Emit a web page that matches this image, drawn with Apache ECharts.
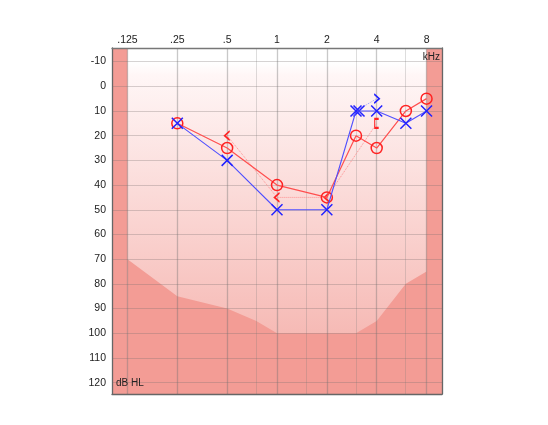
<!DOCTYPE html>
<html><head><meta charset="utf-8">
<script src="https://cdn.jsdelivr.net/npm/echarts@6/dist/echarts.min.js"></script>
<style>html,body{margin:0;padding:0;background:#fff}#c{width:548px;height:425px}</style>
</head><body><div id="c"></div>
<script>
// ---- data ----
const freqTicks = [0.125, 0.25, 0.5, 1, 2, 4, 8];
const tickLabels = ['.125', '.25', '.5', '1', '2', '4', '8'];
const interFreqs = [0.75, 1.5, 3, 6];
const dbTicks = [-10, 0, 10, 20, 30, 40, 50, 60, 70, 80, 90, 100, 110, 120];

const airFreqs = [0.25, 0.5, 1, 2, 3, 4, 6, 8];
const rightAir = [15, 25, 40, 45, 20, 25, 10, 5];
const leftAir = [15, 30, 50, 50, 10, 10, 15, 10];

const rightBoneFreqs = [0.5, 1, 2, 4];
const rightBone = [20, 45, 45, 15];
const rightBoneSym = ['<', '<', '<', '['];

const leftBoneFreqs = [3, 4];
const leftBone = [10, 5];
const leftBoneSym = ['x', '>'];

const floorFreqs = [0.125, 0.25, 0.5, 0.75, 1, 2, 3, 4, 6, 8];
const floorDb = [70, 85, 90, 95, 100, 100, 100, 95, 80, 75];

// ---- helpers ----
const oct = f => Math.log2(f);
const X_MIN = -3.31, X_MAX = 3.31, Y_MIN = -15.5, Y_MAX = 124.6;
const RED = '#ff2222', BLUE = '#2222ff';
const SYM = {
  'x': {symbol: 'path://M0,0L10,10M10,0L0,10', size: [11, 11]},
  '<': {symbol: 'path://M10,0L0,5L10,10', size: [5, 9]},
  '>': {symbol: 'path://M0,0L10,5L0,10', size: [5, 9]},
  '[': {symbol: 'path://M6,0L0,0L0,10L6,10', size: [4, 9]}
};
const pts = (fs, vs) => fs.map((f, i) => [oct(f), vs[i]]);
const symPts = (fs, vs, ss, extra) => fs.map((f, i) => Object.assign({
  value: [oct(f), vs[i]], symbol: SYM[ss[i]].symbol, symbolSize: SYM[ss[i]].size
}, (extra && extra[i]) || {}));

const chart = echarts.init(document.getElementById('c'), null, {renderer: 'canvas'});
const FONT = 'Liberation Sans, Arial, sans-serif';

chart.setOption({
  animation: false,
  grid: {
    left: 112, top: 48, width: 330, height: 346, show: true,
    backgroundColor: new echarts.graphic.LinearGradient(0, 0, 0, 1, [
      {offset: 0, color: '#ffffff'},
      {offset: 0.04, color: '#ffffff'},
      {offset: 0.08, color: '#fff6f6'},
      {offset: 1, color: '#f4aca6'}
    ]),
    borderWidth: 0
  },
  xAxis: [{
    type: 'value', position: 'top', min: X_MIN, max: X_MAX, z: 10,
    axisLine: {show: true, onZero: false, lineStyle: {color: '#777', width: 1.3}},
    axisTick: {show: false},
    splitLine: {show: false},
    axisLabel: {
      show: true, customValues: freqTicks.map(oct), margin: 2,
      fontSize: 10.5, color: '#222', fontFamily: FONT,
      formatter: v => { const i = freqTicks.findIndex(f => Math.abs(oct(f) - v) < 1e-6); return i >= 0 ? tickLabels[i] : ''; }
    }
  }, {
    type: 'value', position: 'bottom', min: X_MIN, max: X_MAX, z: 10,
    axisLine: {show: true, onZero: false, lineStyle: {color: '#666', width: 1.3}},
    axisTick: {show: false}, splitLine: {show: false}, axisLabel: {show: false}
  }],
  yAxis: [{
    type: 'value', inverse: true, min: Y_MIN, max: Y_MAX, z: 10,
    axisLine: {show: true, onZero: false, lineStyle: {color: '#666', width: 1.3}},
    axisTick: {show: false}, splitLine: {show: false},
    axisLabel: {show: true, customValues: dbTicks, margin: 6, fontSize: 10.5, color: '#222', fontFamily: FONT}
  }, {
    type: 'value', inverse: true, min: Y_MIN, max: Y_MAX, position: 'right', z: 10,
    axisLine: {show: true, onZero: false, lineStyle: {color: '#666', width: 1.3}},
    axisTick: {show: false}, splitLine: {show: false}, axisLabel: {show: false}
  }],
  graphic: [
    {type: 'text', right: 108, top: 52, z: 20, style: {text: 'kHz', font: '10px ' + FONT, fill: '#222'}},
    {type: 'text', left: 116, top: 378, z: 20, style: {text: 'dB HL', font: '10px ' + FONT, fill: '#222'}}
  ],
  series: [
    { // lower shaded region + side bands
      type: 'line', z: 1, silent: true, symbol: 'none',
      data: pts(floorFreqs, floorDb),
      lineStyle: {width: 0},
      areaStyle: {origin: 'end', color: '#f39c95', opacity: 1},
      markArea: {
        silent: true, itemStyle: {color: '#f39c95'},
        data: [[{xAxis: X_MIN}, {xAxis: oct(0.125)}], [{xAxis: oct(8)}, {xAxis: X_MAX}]]
      }
    },
    { // horizontal grid lines
      type: 'line', z: 3, silent: true, data: [],
      markLine: {
        silent: true, symbol: 'none', label: {show: false},
        lineStyle: {color: 'rgba(120,110,110,0.3)', width: 1.2, type: 'solid'},
        data: dbTicks.map(v => ({yAxis: v}))
      }
    },
    { // vertical octave grid lines
      type: 'line', z: 3, silent: true, data: [],
      markLine: {
        silent: true, symbol: 'none', label: {show: false},
        lineStyle: {color: 'rgba(110,110,110,0.38)', width: 1.3, type: 'solid'},
        data: freqTicks.map(f => ({xAxis: oct(f)}))
      }
    },
    { // vertical inter-octave grid lines
      type: 'line', z: 3, silent: true, data: [],
      markLine: {
        silent: true, symbol: 'none', label: {show: false},
        lineStyle: {color: 'rgba(120,120,120,0.25)', width: 1, type: 'solid'},
        data: interFreqs.map(f => ({xAxis: oct(f)}))
      }
    },
    { // right bone (dotted)
      type: 'line', z: 5, data: symPts(rightBoneFreqs, rightBone, rightBoneSym),
      lineStyle: {color: '#ff9090', width: 1, type: 'dotted'},
      itemStyle: {color: 'transparent', borderColor: RED, borderWidth: 1.5}
    },
    { // left bone (dotted)
      type: 'line', z: 5, data: symPts(leftBoneFreqs, leftBone, leftBoneSym, [{symbolOffset: [3, 0]}, {symbolOffset: [0, 0]}]),
      lineStyle: {color: '#a0a0ff', width: 1, type: 'dotted'},
      itemStyle: {color: 'transparent', borderColor: BLUE, borderWidth: 1.5}
    },
    { // right air
      type: 'line', z: 6, data: pts(airFreqs, rightAir),
      symbol: 'circle', symbolSize: 11,
      lineStyle: {color: '#ff4f4f', width: 1.2},
      itemStyle: {color: 'transparent', borderColor: RED, borderWidth: 1.5}
    },
    { // left air
      type: 'line', z: 7, data: pts(airFreqs, leftAir),
      symbol: SYM['x'].symbol, symbolSize: SYM['x'].size,
      lineStyle: {color: '#5050ff', width: 1.1},
      itemStyle: {color: 'transparent', borderColor: BLUE, borderWidth: 1.5}
    }
  ]
});
</script></body></html>
